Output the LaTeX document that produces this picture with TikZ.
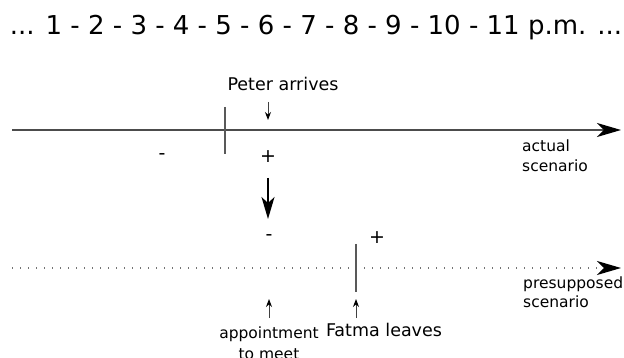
\documentclass[tikz,border=0pt]{standalone}
\usepackage{fontspec}
\setmainfont{DejaVu Sans}
\usetikzlibrary{arrows.meta}
\begin{document}
\begin{tikzpicture}[x=1pt,y=-1pt,
  lbl/.style={font=\fontsize{17.5}{20}\selectfont, inner sep=0pt},
  small/.style={font=\fontsize{15.5}{18}\selectfont, inner sep=0pt, anchor=west},
  sgn/.style={font=\fontsize{19}{21}\selectfont, inner sep=0pt},
  timeline/.style={draw=black!70, line width=1.6pt, -{Stealth[length=24pt,width=14pt,inset=7pt,black]}},
  tick/.style={draw=black!65, line width=1.6pt},
  pointer/.style={draw=black!75, line width=1pt, -{Stealth[length=8pt,width=6pt,black]}},
  bigpointer/.style={draw=black, line width=1.6pt, -{Stealth[length=22pt,width=13pt,inset=6pt,black]}}]
\useasboundingbox (0,0) rectangle (624,358);

% hours of the day
\node[font=\fontsize{26}{28}\selectfont, inner sep=0pt] (hours) at (316,28)
  {... 1 - 2 - 3 - 4 - 5 - 6 - 7 - 8 - 9 - 10 - 11 p.m. ...};

% actual scenario
\coordinate (a0) at (12,130);
\coordinate (a1) at (621,130);
\draw[timeline] (a0) -- (a1);
\coordinate (t1a) at (225,107);
\coordinate (t1b) at (225,154);
\draw[tick] (t1a) -- (t1b);
\node[lbl] (peter) at (283,84) {Peter arrives};
\coordinate (pa0) at (268,102);
\coordinate (pa1) at (268,120);
\draw[pointer] (pa0) -- (pa1);
\node[sgn] (m1) at (162,157) {-};
\node[sgn] (p1) at (268,157) {+};
\node[small] (actual) at (522,146) {actual};
\node[small] (actual2) at (522,166) {scenario};

% shift to the presupposed scenario
\coordinate (s0) at (268,178);
\coordinate (s1) at (268,219);
\draw[bigpointer] (s0) -- (s1);

% presupposed scenario
\coordinate (b0) at (12,268);
\coordinate (b1) at (621,268);
\draw[draw=black!55, line width=1.6pt, dash pattern=on 1.4pt off 6.6pt,
  -{Stealth[length=24pt,width=14pt,inset=7pt,black]}] (b0) -- (b1);
\coordinate (t2a) at (356,244);
\coordinate (t2b) at (356,292);
\draw[tick] (t2a) -- (t2b);
\node[sgn] (m2) at (269,238) {-};
\node[sgn] (p2) at (377,238) {+};
\node[small] (presup) at (523,284) {presupposed};
\node[small] (presup2) at (523,302) {scenario};

\coordinate (ap0) at (269,318);
\coordinate (ap1) at (269,299);
\draw[pointer] (ap0) -- (ap1);
\coordinate (fl0) at (356,318);
\coordinate (fl1) at (356,299);
\draw[pointer] (fl0) -- (fl1);
\node[small, anchor=center] (appt) at (269,334) {appointment};
\node[small, anchor=center] (appt2) at (269,354) {to meet};
\node[lbl] (fatma) at (384,330) {Fatma leaves};
\end{tikzpicture}
\end{document}
